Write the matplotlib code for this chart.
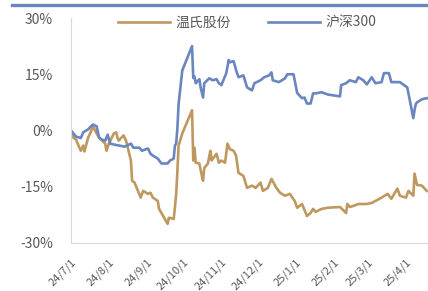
import pandas as pd
import matplotlib
matplotlib.use("Agg")
import matplotlib.pyplot as plt
from matplotlib.lines import Line2D

plt.rcParams['font.family'] = ['Noto Sans CJK SC', 'DejaVu Sans']

# 沪深300 cumulative return (%)
hs300_dates = [
    '2024-07-01', '2024-07-03', '2024-07-05', '2024-07-09', '2024-07-11', '2024-07-15',
    '2024-07-17', '2024-07-19', '2024-07-22', '2024-07-24', '2024-07-26', '2024-07-29',
    '2024-07-31', '2024-08-02', '2024-08-06', '2024-08-09', '2024-08-14', '2024-08-19',
    '2024-08-21', '2024-08-26', '2024-08-28', '2024-09-02', '2024-09-04', '2024-09-06',
    '2024-09-10', '2024-09-13', '2024-09-18', '2024-09-20', '2024-09-23', '2024-09-24',
    '2024-09-25', '2024-09-26', '2024-09-27', '2024-09-30', '2024-10-08', '2024-10-09',
    '2024-10-10', '2024-10-11', '2024-10-14', '2024-10-15', '2024-10-17', '2024-10-18',
    '2024-10-22', '2024-10-25', '2024-10-28', '2024-10-30', '2024-11-01', '2024-11-05',
    '2024-11-07', '2024-11-08', '2024-11-11', '2024-11-13', '2024-11-15', '2024-11-19',
    '2024-11-22', '2024-11-26', '2024-11-28', '2024-12-03', '2024-12-06', '2024-12-10',
    '2024-12-12', '2024-12-13', '2024-12-18', '2024-12-23', '2024-12-25', '2024-12-30',
    '2025-01-02', '2025-01-06', '2025-01-08', '2025-01-10', '2025-01-13', '2025-01-15',
    '2025-01-17', '2025-01-22', '2025-01-27', '2025-02-06', '2025-02-07', '2025-02-11',
    '2025-02-14', '2025-02-19', '2025-02-21', '2025-02-25', '2025-02-28', '2025-03-04',
    '2025-03-07', '2025-03-12', '2025-03-14', '2025-03-18', '2025-03-20', '2025-03-27',
    '2025-04-02', '2025-04-03', '2025-04-07', '2025-04-08', '2025-04-09', '2025-04-10',
    '2025-04-14', '2025-04-16', '2025-04-18',
]
hs300_values = [
    0.0, -0.8, -1.6, -2.0, -0.5, 0.3,
    1.0, 1.6, 1.1, -1.9, -2.4, -2.7,
    -1.1, -3.5, -3.8, -4.0, -4.3, -3.5,
    -4.6, -4.6, -5.4, -4.8, -6.2, -6.7,
    -7.5, -8.8, -8.8, -8.0, -7.5, -4.0,
    -3.5, 0.5, 7.0, 16.0, 22.5, 14.0,
    14.4, 12.6, 13.7, 11.5, 8.8, 12.6,
    13.9, 13.4, 13.7, 12.6, 12.1, 15.3,
    18.8, 18.2, 18.5, 16.1, 14.2, 14.7,
    11.5, 10.7, 12.6, 13.4, 14.2, 14.7,
    15.5, 13.4, 12.9, 13.9, 15.0, 15.0,
    10.0, 8.6, 8.8, 7.2, 7.2, 9.9,
    9.9, 10.2, 9.6, 9.1, 12.1, 12.6,
    13.4, 12.9, 14.2, 13.4, 12.3, 14.2,
    12.6, 12.9, 15.3, 15.3, 12.9, 12.9,
    11.5, 9.9, 3.3, 5.5, 7.0, 7.5,
    8.3, 8.5, 8.6,
]

# 温氏股份 cumulative return (%)
wens_dates = [
    '2024-07-01', '2024-07-03', '2024-07-05', '2024-07-09', '2024-07-11', '2024-07-12',
    '2024-07-15', '2024-07-17', '2024-07-19', '2024-07-22', '2024-07-24', '2024-07-29',
    '2024-07-30', '2024-08-01', '2024-08-05', '2024-08-07', '2024-08-08', '2024-08-09',
    '2024-08-13', '2024-08-15', '2024-08-16', '2024-08-19', '2024-08-20', '2024-08-22',
    '2024-08-27', '2024-08-29', '2024-09-02', '2024-09-04', '2024-09-06', '2024-09-10',
    '2024-09-11', '2024-09-13', '2024-09-18', '2024-09-19', '2024-09-20', '2024-09-23',
    '2024-09-24', '2024-09-25', '2024-09-26', '2024-09-27', '2024-09-30', '2024-10-08',
    '2024-10-09', '2024-10-10', '2024-10-11', '2024-10-14', '2024-10-15', '2024-10-16',
    '2024-10-17', '2024-10-18', '2024-10-21', '2024-10-22', '2024-10-23', '2024-10-24',
    '2024-10-25', '2024-10-28', '2024-10-30', '2024-11-01', '2024-11-04', '2024-11-06',
    '2024-11-08', '2024-11-11', '2024-11-13', '2024-11-15', '2024-11-19', '2024-11-22',
    '2024-11-26', '2024-11-29', '2024-12-03', '2024-12-05', '2024-12-09', '2024-12-12',
    '2024-12-16', '2024-12-19', '2024-12-23', '2024-12-27', '2024-12-31', '2025-01-02',
    '2025-01-06', '2025-01-10', '2025-01-13', '2025-01-15', '2025-01-17', '2025-01-22',
    '2025-01-27', '2025-02-06', '2025-02-11', '2025-02-12', '2025-02-14', '2025-02-17',
    '2025-02-21', '2025-02-24', '2025-02-28', '2025-03-04', '2025-03-07', '2025-03-12',
    '2025-03-17', '2025-03-20', '2025-03-25', '2025-03-27', '2025-04-01', '2025-04-03',
    '2025-04-07', '2025-04-08', '2025-04-10', '2025-04-14', '2025-04-18',
]
wens_values = [
    0.0, -1.9, -2.4, -5.4, -4.0, -5.6,
    -1.9, -0.5, 1.1, -0.8, -1.9, -3.5,
    -5.4, -3.5, -0.8, -0.5, -1.9, -2.7,
    -1.3, -2.7, -4.0, -8.0, -13.4, -13.9,
    -17.9, -16.1, -16.9, -16.6, -17.9, -18.8,
    -20.9, -22.0, -24.9, -23.3, -23.3, -23.6,
    -20.5, -17.0, -11.0, -4.0, -0.8, 5.4,
    -8.0, -4.6, -8.6, -8.8, -10.5, -12.0,
    -13.4, -10.0, -8.8, -7.0, -5.4, -8.0,
    -7.5, -6.2, -8.6, -8.0, -8.6, -3.5,
    -5.0, -5.4, -6.7, -11.3, -12.1, -15.3,
    -14.7, -15.3, -13.9, -16.1, -15.3, -12.9,
    -15.3, -16.6, -17.4, -16.9, -18.8, -20.6,
    -19.6, -22.8, -22.0, -20.9, -21.7, -20.9,
    -20.6, -20.4, -22.0, -19.6, -20.4, -20.1,
    -19.6, -19.6, -19.6, -19.3, -18.8, -17.9,
    -16.9, -18.2, -15.5, -17.4, -17.9, -16.1,
    -17.4, -11.5, -14.5, -14.7, -16.1,
]

tick_dates = ['2024-07-01', '2024-08-01', '2024-09-01', '2024-10-01', '2024-11-01',
              '2024-12-01', '2025-01-01', '2025-02-01', '2025-03-01', '2025-04-01']
tick_labels = ['24/7/1', '24/8/1', '24/9/1', '24/10/1', '24/11/1',
               '24/12/1', '25/1/1', '25/2/1', '25/3/1', '25/4/1']
y_ticks = [-30, -15, 0, 15, 30]

BROWN = '#BF9860'
BLUE = '#6A86C0'
GREY = '#595959'

fig = plt.figure(figsize=(4.28, 2.91), dpi=100)
ax = fig.add_axes([71 / 428, 48 / 291, 357 / 428, 225 / 291])

# decorative bar across the top
fig.add_artist(Line2D([12 / 428, 1.0], [1 - 5 / 291, 1 - 5 / 291],
                      color=BLUE, linewidth=2.4, transform=fig.transFigure))

ax.plot(pd.to_datetime(wens_dates), wens_values, color=BROWN, linewidth=1.9, label='温氏股份')
ax.plot(pd.to_datetime(hs300_dates), hs300_values, color=BLUE, linewidth=1.9, label='沪深300')

ax.set_xlim(pd.Timestamp('2024-07-01'), pd.Timestamp('2025-04-19'))
ax.set_ylim(-30, 30)
ax.set_yticks(y_ticks)
ax.set_yticklabels([f'{v}%' for v in y_ticks], fontsize=10, color=GREY)
ax.set_xticks(pd.to_datetime(tick_dates))
ax.set_xticklabels(tick_labels, fontsize=8, color=GREY, rotation=45,
                   ha='right', rotation_mode='anchor')
ax.tick_params(axis='both', length=0)
ax.tick_params(axis='y', pad=13)
ax.tick_params(axis='x', pad=10)

for side in ['top', 'right']:
    ax.spines[side].set_visible(False)
for side in ['left', 'bottom']:
    ax.spines[side].set_color('#D9D9D9')
    ax.spines[side].set_linewidth(0.8)

ax.legend(loc='upper left', bbox_to_anchor=(0.115, 1.035), ncol=2, frameon=False,
          fontsize=10, handlelength=3.8, handletextpad=0.4, columnspacing=2.6,
          borderaxespad=0, labelcolor=GREY)

fig.savefig('out.png', dpi=100)
